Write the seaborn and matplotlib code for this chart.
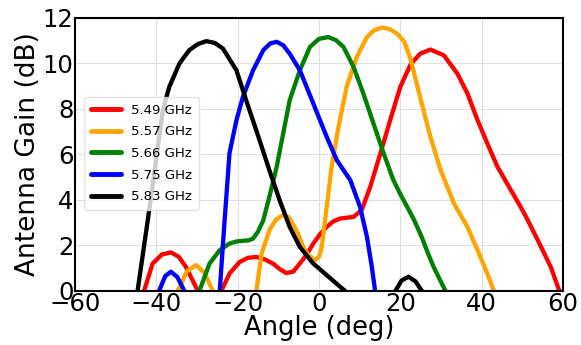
import matplotlib
matplotlib.use("Agg")
import matplotlib.pyplot as plt
import seaborn as sns
import pandas as pd

# Angle (deg) / gain (dB) samples; values < 0 are clipped by the axis
ang_549 = [-45, -43.0, -40.9, -38.6, -36.4, -34.5, -32.7, -29.8, -27, -24.0, -22.0, -19.5, -17.5, -15.4, -13.3, -11.3, -9.6, -8.0, -6.3, -4.7, -3.0, -1.4, 0.3, 1.9, 3.5, 5.2, 7.0, 8.5, 10.5, 12.6, 15.1, 17.5, 20.0, 22.5, 24.9, 27.4, 30.7, 34.0, 36.5, 39.0, 41.4, 43.9, 47.2, 50.5, 53.8, 57.0, 59.1, 61]
gain_549 = [-1, 0, 1.2, 1.6, 1.69, 1.5, 1.05, 0, -1.5, 0, 0.76, 1.27, 1.45, 1.49, 1.38, 1.2, 0.95, 0.78, 0.85, 1.2, 1.6, 2.08, 2.5, 2.81, 3.05, 3.18, 3.22, 3.25, 3.55, 4.57, 6.04, 7.5, 8.97, 9.95, 10.43, 10.61, 10.36, 9.56, 8.68, 7.5, 6.48, 5.45, 4.43, 3.4, 2.23, 1.05, 0, -1]

ang_557 = [-37, -34.7, -32.5, -30.2, -28.2, -26.1, -21, -15.4, -14.1, -12.1, -10.5, -8.8, -7.5, -6.3, -5.0, -3.9, -2.5, -1.0, 0.0, 0.7, 1.9, 3.1, 4.8, 6.8, 9.3, 11.8, 13.5, 15.5, 17.5, 19.2, 21.0, 22.5, 24.9, 27.4, 29.9, 33.2, 36.5, 39.0, 41.4, 43.0, 45]
gain_557 = [-1, 0, 0.85, 1.13, 0.8, 0, -2, 0, 1.64, 2.7, 3.15, 3.33, 3.25, 2.9, 2.45, 1.93, 1.55, 1.35, 1.5, 1.93, 3.69, 5.45, 7.21, 8.97, 10.29, 11.16, 11.45, 11.58, 11.5, 11.31, 10.95, 10.2, 8.5, 6.77, 5.31, 3.84, 2.81, 1.79, 0.76, 0, -1]

ang_566 = [-31.5, -29.4, -26.9, -24.4, -22.0, -20.3, -18.7, -17.3, -16.2, -15.0, -13.7, -12.1, -10.4, -8.8, -7.2, -4.7, -2.2, 0.0, 2.3, 4.2, 6.0, 8.5, 10.9, 13.4, 15.9, 18.3, 20.0, 21.7, 23.3, 25.3, 26.8, 28.2, 29.7, 31.1, 33]
gain_566 = [-1, 0, 1.2, 1.79, 2.08, 2.17, 2.2, 2.22, 2.3, 2.6, 3.1, 4.2, 5.45, 6.92, 8.38, 9.7, 10.73, 11.08, 11.16, 11.02, 10.73, 9.85, 8.68, 7.36, 6.04, 4.87, 4.25, 3.69, 3.15, 2.35, 1.65, 1.05, 0.5, 0, -1]

ang_575 = [-41, -39.3, -37.8, -36.4, -34.8, -33.1, -28.7, -24.4, -23.2, -22.0, -20.3, -18.7, -16.2, -13.7, -12.0, -10.4, -8.8, -7.2, -4.7, -1.4, 1.9, 4.4, 7.7, 10.1, 11.8, 13.0, 13.8, 15]
gain_575 = [-1, 0, 0.65, 0.84, 0.6, 0, -2, 0, 3.1, 6.05, 7.5, 8.53, 9.7, 10.58, 10.88, 10.95, 10.8, 10.43, 9.7, 8.24, 6.77, 5.74, 4.87, 3.69, 2.37, 1.05, 0, -1]

ang_583 = [-46, -44.6, -42.1, -40.5, -38.4, -36.8, -34.3, -31.9, -29.8, -27.7, -25.6, -23.6, -20.3, -17.9, -14.6, -12.1, -9.6, -7.2, -4.7, -1.4, 1.9, 5.2, 6.4, 8, 13, 18.8, 20.3, 22.0, 23.7, 25.3, 27]
gain_583 = [-1, 0, 3.1, 5.16, 7.94, 8.97, 10.0, 10.58, 10.85, 10.98, 10.9, 10.65, 9.7, 8.38, 6.62, 5.25, 3.95, 2.81, 1.93, 1.2, 0.69, 0.18, 0, -0.7, -1.5, 0, 0.45, 0.62, 0.42, 0, -0.8]

labels = ["5.49 GHz", "5.57 GHz", "5.66 GHz", "5.75 GHz", "5.83 GHz"]
colors = ["red", "orange", "green", "blue", "black"]
xticks = [-60, -40, -20, 0, 20, 40, 60]
yticks = [0, 2, 4, 6, 8, 10, 12]

series = [(ang_549, gain_549), (ang_557, gain_557), (ang_566, gain_566),
          (ang_575, gain_575), (ang_583, gain_583)]

frames = []
for lab, (a, g) in zip(labels, series):
    frames.append(pd.DataFrame({"angle": a, "gain": g, "freq": lab}))
df = pd.concat(frames, ignore_index=True)

sns.set_theme(style="whitegrid")
plt.rcParams['font.family'] = ['DejaVu Sans']

fig = plt.figure(figsize=(5.81, 3.45), dpi=100)
ax = fig.add_axes([0.129, 0.157, 0.840, 0.791])

sns.lineplot(data=df, x="angle", y="gain", hue="freq", hue_order=labels,
             palette=colors, sort=False, estimator=None, linewidth=3.1, ax=ax,
             solid_joinstyle="round", solid_capstyle="round")

ax.set_xlim(-60, 60)
ax.set_ylim(0, 12)
ax.set_xticks(xticks)
ax.set_yticks(yticks)
ax.tick_params(axis="both", labelsize=17.5, pad=1, length=0, colors="black")
ax.set_xlabel("Angle (deg)", fontsize=18.5, labelpad=-1, color="black")
ax.set_ylabel("Antenna Gain (dB)", fontsize=19, labelpad=1, color="black")
ax.grid(True, color="#e0e0e0", linewidth=0.8)
for s in ax.spines.values():
    s.set_color("black")
    s.set_linewidth(1.5)

leg = ax.legend(loc="center left", bbox_to_anchor=(0.006, 0.503), fontsize=9.5,
                title=None, frameon=True, handlelength=2.3, borderpad=0.5,
                labelspacing=0.65, handletextpad=0.75)
for line in leg.get_lines():
    line.set_linewidth(3.5)
for t in leg.get_texts():
    t.set_color("black")
leg.get_frame().set_edgecolor("#dddddd")

fig.savefig("out.png", dpi=100)
